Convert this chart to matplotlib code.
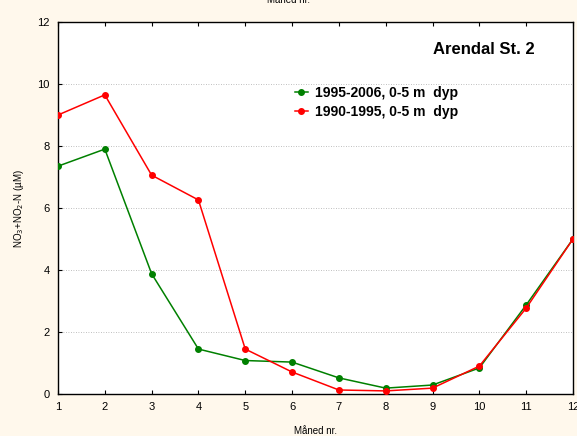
import matplotlib
matplotlib.use("Agg")
import matplotlib.pyplot as plt

months = [1, 2, 3, 4, 5, 6, 7, 8, 9, 10, 11, 12]
green_1995_2006 = [7.35, 7.90, 3.88, 1.45, 1.08, 1.03, 0.52, 0.19, 0.29, 0.84, 2.87, 5.0]
red_1990_1995 = [9.0, 9.65, 7.06, 6.26, 1.45, 0.71, 0.13, 0.10, 0.19, 0.90, 2.77, 5.0]
label_green = "1995-2006, 0-5 m  dyp"
label_red = "1990-1995, 0-5 m  dyp"
yticks = [0, 2, 4, 6, 8, 10, 12]

plt.rcParams['font.family'] = ['Liberation Sans', 'DejaVu Sans']

fig = plt.figure(figsize=(5.77, 4.36), dpi=100)
fig.patch.set_facecolor('#FFF8EC')
ax = fig.add_axes([0.1005, 0.0963, 0.8925, 0.8532])
ax.set_facecolor('white')

ax.plot(months, green_1995_2006, color='#008000', marker='o', markersize=4, lw=1.1, label=label_green, zorder=3)
ax.plot(months, red_1990_1995, color='#FF0000', marker='o', markersize=4, lw=1.1, label=label_red, zorder=3)

ax.set_xlim(1, 12)
ax.set_ylim(0, 12)
ax.set_xticks(months)
ax.set_yticks(yticks)
ax.tick_params(direction='in', top=True, right=False, labelsize=8, length=3, width=0.8, pad=6)
ax.yaxis.grid(True, linestyle=(0, (1, 2)), color='#AAAAAA', lw=0.6)
for s in ax.spines.values():
    s.set_linewidth(1.0)
    s.set_color('black')

ax.set_xlabel('Måned nr.', fontsize=7, labelpad=10)
ax.set_ylabel(r'NO$_3$+NO$_2$-N (µM)', fontsize=7, labelpad=8)

ax.text(0.926, 0.925, 'Arendal St. 2', transform=ax.transAxes, ha='right', va='center',
        fontsize=12, fontweight='bold')

leg = ax.legend(loc='upper left', bbox_to_anchor=(0.46, 0.828), frameon=False,
                prop={'weight': 'bold', 'size': 10}, handlelength=0.95, labelspacing=0.35,
                handletextpad=0.5, borderaxespad=0, borderpad=0)

fig.text(0.5, 1.0, 'Måned nr.', ha='center', va='center', fontsize=7)

fig.savefig('out.png', dpi=100, facecolor=fig.get_facecolor())
